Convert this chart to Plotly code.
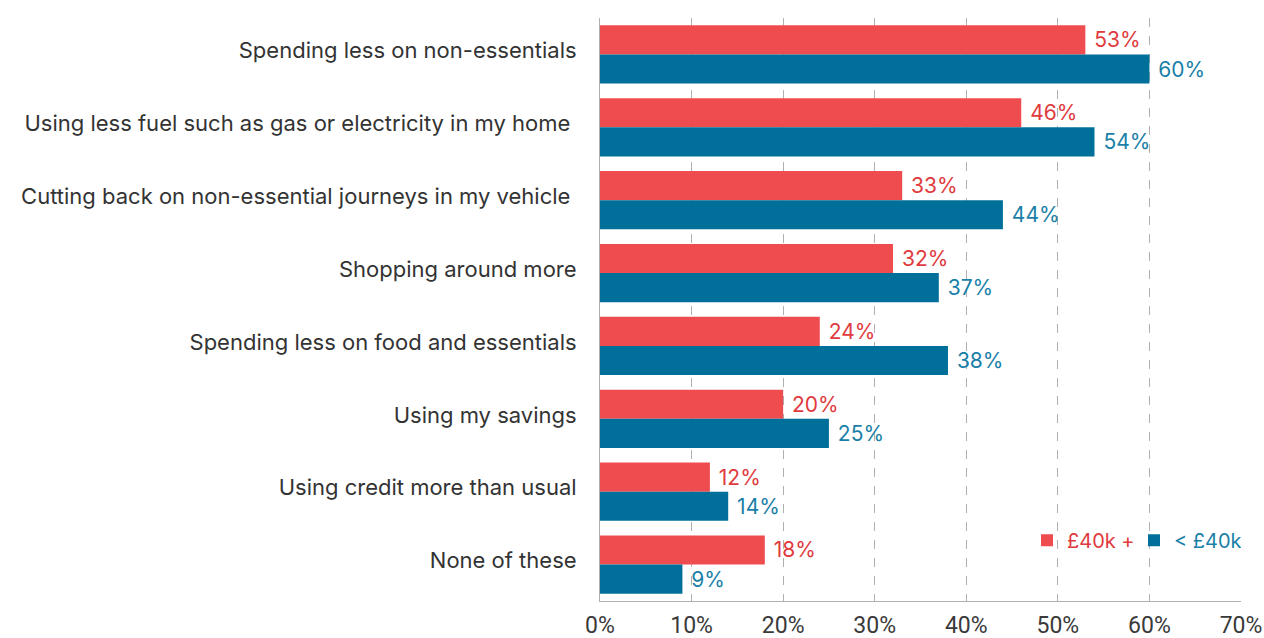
import plotly.graph_objects as go

categories = [
    "Spending less on non-essentials",
    "Using less fuel such as gas or electricity in my home ",
    "Cutting back on non-essential journeys in my vehicle ",
    "Shopping around more",
    "Spending less on food and essentials",
    "Using my savings",
    "Using credit more than usual",
    "None of these",
]
high_income = [53, 46, 33, 32, 24, 20, 12, 18]   # £40k +
low_income = [60, 54, 44, 37, 38, 25, 14, 9]     # < £40k
x_ticks = [0, 10, 20, 30, 40, 50, 60, 70]

RED = "#ef4c4f"
BLUE = "#00709b"
RED_T = "#e03a3e"
BLUE_T = "#1a7fa8"
LABEL_FONT = "Inter"

fig = go.Figure()
fig.add_trace(go.Bar(
    y=categories, x=high_income, orientation="h",
    name="<span style='color:%s'>£40k +</span>" % RED_T,
    marker=dict(color=RED, line=dict(width=0)),
    text=[f" {v}%" for v in high_income], textposition="outside",
    textfont=dict(color=RED_T, size=21, family=LABEL_FONT),
    cliponaxis=False,
))
fig.add_trace(go.Bar(
    y=categories, x=low_income, orientation="h",
    name="<span style='color:%s'>&lt; £40k</span>" % BLUE_T,
    marker=dict(color=BLUE, line=dict(width=0)),
    text=[f" {v}%" for v in low_income], textposition="outside",
    textfont=dict(color=BLUE_T, size=21, family=LABEL_FONT),
    cliponaxis=False,
))

fig.update_layout(
    width=1264, height=638,
    margin=dict(l=600, r=23, t=18, b=37),
    paper_bgcolor="white", plot_bgcolor="white",
    barmode="group", bargap=0.2, bargroupgap=0,
    font=dict(family=LABEL_FONT, color="#333333"),
    legend=dict(
        orientation="h",
        x=1.0, y=0.104, xanchor="right", yanchor="middle",
        font=dict(size=20, family=LABEL_FONT),
        bgcolor="rgba(0,0,0,0)", itemwidth=30,
        entrywidth=62, entrywidthmode="pixels",
    ),
    showlegend=True,
    xaxis=dict(
        range=[0, 70], tickvals=x_ticks, ticktext=[f"{t}%" for t in x_ticks],
        showgrid=True, gridcolor="#b0b0b0", griddash="dash", gridwidth=1,
        zeroline=False, showline=True, linecolor="#b0b0b0", linewidth=1,
        tickfont=dict(size=23, family="Roboto", color="#3a3a3a"),
        ticks="", ticklabelstandoff=3, automargin=False,
    ),
    yaxis=dict(
        autorange="reversed", showgrid=False, zeroline=False,
        showline=True, linecolor="#b0b0b0", linewidth=1,
        tickfont=dict(size=22, family=LABEL_FONT, color="#333333"),
        ticks="", ticklabelstandoff=18, ticklabelshift=4, automargin=False,
    ),
)

fig.write_html("out.html")
